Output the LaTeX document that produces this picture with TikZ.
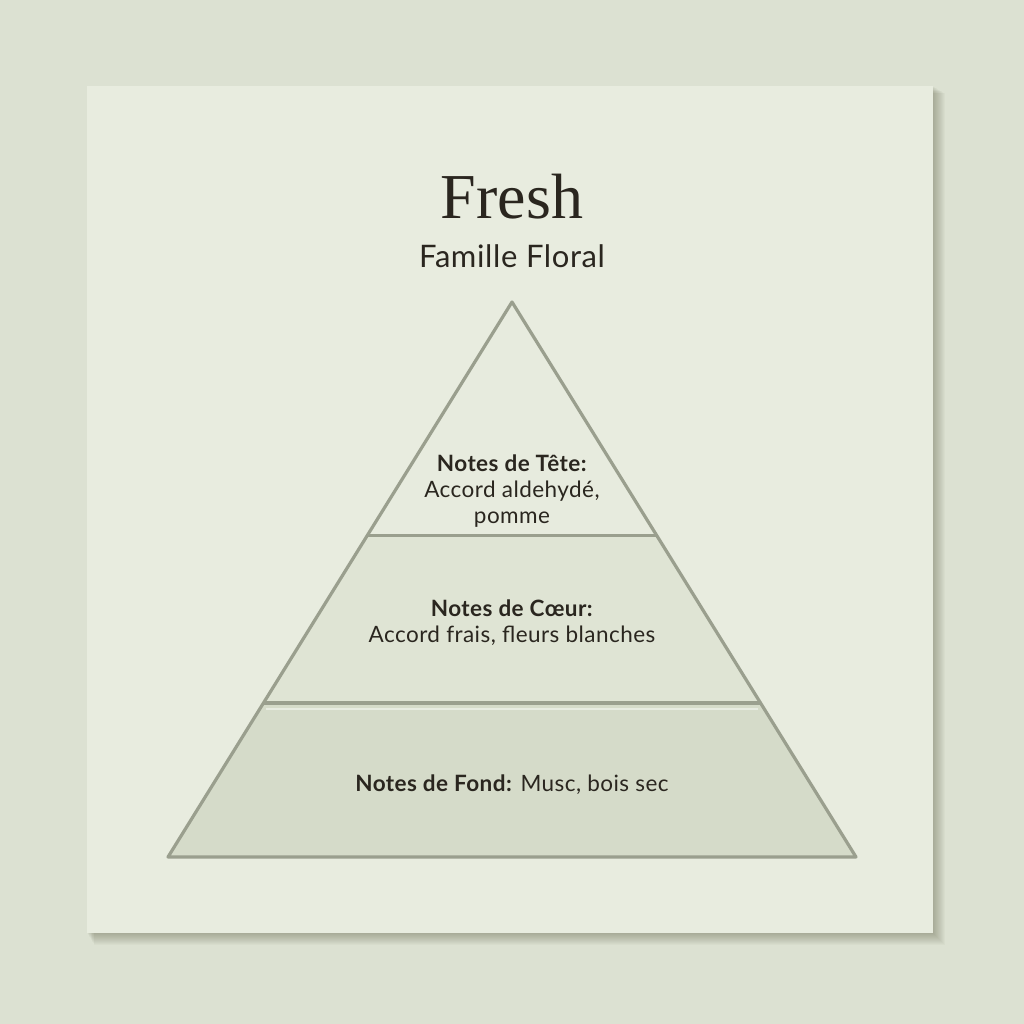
\documentclass[tikz,border=0pt]{standalone}
\usepackage{fontspec}
\setmainfont{Liberation Serif}
\newfontfamily\notefont[LetterSpace=2]{Lato}
\usetikzlibrary{calc, positioning}
\definecolor{wall}{HTML}{DCE1D2}
\definecolor{card}{HTML}{E8ECDF}
\definecolor{tiptop}{HTML}{E7EBDE}
\definecolor{tipmid}{HTML}{DFE4D4}
\definecolor{tipbase}{HTML}{D5DBC9}
\definecolor{rim}{HTML}{9A9F8E}
\definecolor{ink}{HTML}{2A261F}
\tikzset{
    layer/.style={draw=rim, line width=3.2pt, line join=round},
    note/.style={text=ink, font=\notefont\fontsize{22.5}{26}\selectfont, align=center, inner sep=0pt}
}
\begin{document}
\begin{tikzpicture}[x=1pt, y=-1pt]
    \useasboundingbox[fill=wall] (0,0) rectangle (1024,1024);
    % soft shadow of the card
    \foreach \s in {1,...,12}
        \fill[black!60!olive, opacity=0.03] (87+\s*0.6,86+\s*0.6) rectangle (933+\s,933+\s);
    \fill[card] (87,86) rectangle (933,933);
    \coordinate (top) at (512,302);
    \coordinate (bl) at (168,857);
    \coordinate (br) at (856,857);
    \coordinate (a1) at ($(top)!0.42!(bl)$);
    \coordinate (a2) at ($(top)!0.42!(br)$);
    \coordinate (b1) at ($(top)!0.7225!(bl)$);
    \coordinate (b2) at ($(top)!0.7225!(br)$);
    \fill[tipbase] (b1) -- (b2) -- (br) -- (bl) -- cycle;
    \fill[tipmid] (a1) -- (a2) -- (b2) -- (b1) -- cycle;
    \fill[tiptop] (top) -- (a2) -- (a1) -- cycle;
    \draw[white, opacity=.45, line width=2.5pt] ($(b1)+(3,6)$) -- ($(b2)+(-3,6)$);
    \draw[layer] (a1) -- (a2);
    \draw[layer] (b1) -- (b2);
    \draw[layer] (top) -- (br) -- (bl) -- cycle;
    % titles
    \node[text=ink, font=\fontsize{64}{70}\selectfont, inner sep=0pt] (title) at (512,197) {Fresh};
    \node[text=ink, font=\notefont\fontsize{31}{34}\selectfont, inner sep=0pt] (family) at (512,256) {Famille Floral};
    % notes
    \node[note] (head) at (512,491) {\textbf{Notes de Tête:}\\Accord aldehydé,\\pomme};
    \node[note] (heart) at (512,623) {\textbf{Notes de Cœur:}\\Accord frais, fleurs blanches};
    \node[note] (base) at (512,785) {\textbf{Notes de Fond:} Musc, bois sec};
\end{tikzpicture}
\end{document}
